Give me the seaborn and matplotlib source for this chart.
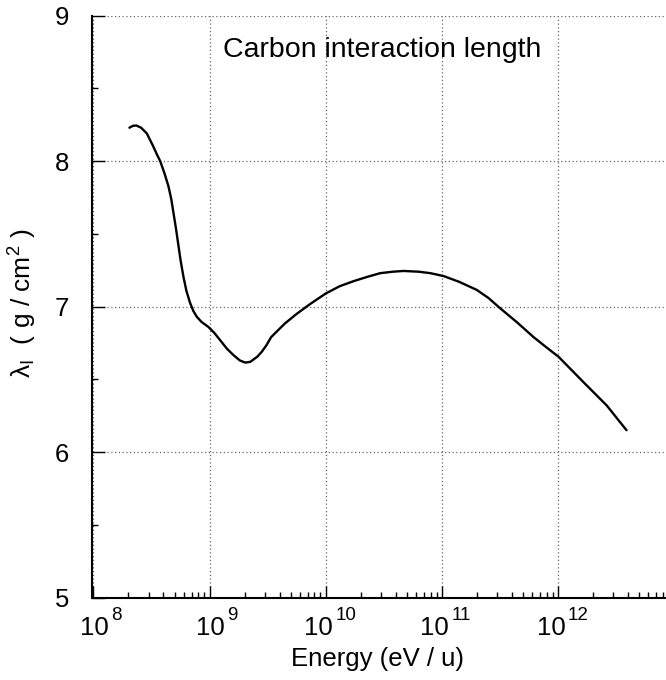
"""Carbon interaction length vs energy per nucleon (log x)."""
import matplotlib
matplotlib.use("Agg")
import matplotlib.pyplot as plt
import matplotlib.ticker as mticker
import matplotlib.transforms as mtransforms
import numpy as np
import pandas as pd
import seaborn as sns

# values: log10(E / (eV/u)) and lambda_I (g/cm^2)
log_energy = [8.31, 8.34, 8.37, 8.41, 8.46, 8.51, 8.55, 8.575, 8.61, 8.645,
              8.67, 8.69, 8.71, 8.73, 8.75, 8.775, 8.80, 8.83, 8.86, 8.89,
              8.93, 8.99, 9.04, 9.09, 9.15, 9.205, 9.26, 9.307, 9.35, 9.41,
              9.45, 9.49, 9.53, 9.58, 9.65, 9.75, 9.87, 10.0, 10.12, 10.24,
              10.36, 10.47, 10.58, 10.67, 10.80, 10.90, 11.015, 11.15, 11.30,
              11.40, 11.50, 11.65, 11.79, 11.90, 12.005, 12.22, 12.42, 12.59]
lambda_i = [8.23, 8.243, 8.245, 8.23, 8.19, 8.11, 8.04, 8.0, 7.92, 7.83,
            7.74, 7.64, 7.54, 7.43, 7.32, 7.205, 7.11, 7.03, 6.97, 6.93,
            6.895, 6.86, 6.82, 6.77, 6.71, 6.667, 6.63, 6.615, 6.62, 6.655,
            6.69, 6.735, 6.79, 6.83, 6.885, 6.95, 7.02, 7.09, 7.14, 7.175,
            7.205, 7.23, 7.24, 7.245, 7.24, 7.23, 7.21, 7.17, 7.115,
            7.06, 6.99, 6.89, 6.79, 6.72, 6.655, 6.48, 6.32, 6.15]

decades = [8, 9, 10, 11, 12]
y_major = [5, 6, 7, 8, 9]
title = "Carbon interaction length"
xlabel = "Energy (eV / u)"
ylabel = r"$\lambda_{\rm I}$  ( g / cm$^{2}$ )"

df = pd.DataFrame({"energy": np.power(10.0, log_energy), "lambda_i": lambda_i})

sns.set_theme(style="white")
plt.rcParams["font.family"] = ["Liberation Sans", "DejaVu Sans"]
plt.rcParams["mathtext.fontset"] = "custom"
plt.rcParams["mathtext.rm"] = "Liberation Sans"
plt.rcParams["mathtext.it"] = "Liberation Sans:italic"
plt.rcParams["mathtext.default"] = "regular"
for key in ["text.color", "axes.labelcolor", "xtick.color", "ytick.color"]:
    plt.rcParams[key] = "black"

fig = plt.figure(figsize=(6.66, 6.80), dpi=100)
ax = fig.add_axes([91.7 / 666, (680 - 597.5) / 680, (666 - 91.7) / 666, (597.5 - 15.7) / 680])

sns.lineplot(data=df, x="energy", y="lambda_i", sort=False, estimator=None,
             color="black", lw=1.7, ax=ax)

ax.set_xscale("log")
ax.set_xlim(10 ** 7.985, 10 ** 12.93)
ax.set_ylim(5, 9)

ax.xaxis.set_major_locator(mticker.FixedLocator([10.0 ** d for d in decades]))
ax.set_xticklabels(["10"] * len(decades))
ax.xaxis.set_minor_locator(mticker.LogLocator(base=10, subs=np.arange(2, 10)))
ax.xaxis.set_minor_formatter(mticker.NullFormatter())
ax.yaxis.set_major_locator(mticker.FixedLocator(y_major))
ax.yaxis.set_minor_locator(mticker.MultipleLocator(0.5))

ax.tick_params(axis="both", which="major", direction="in", length=9, width=1.0,
               labelsize=18.5)
ax.tick_params(axis="both", which="minor", direction="in", length=4.5, width=1.0)
ax.tick_params(axis="x", which="major", pad=13)
ax.tick_params(axis="y", which="major", pad=16)
ax.tick_params(axis="both", which="both", bottom=True, left=True, top=False, right=False)

# ROOT-style labels: "10" under the tick, exponent raised to its right
for d, lab in zip(decades, ax.get_xticklabels()):
    shift = 1 if d < 10 else -7
    lab.set_transform(lab.get_transform() +
                      mtransforms.ScaledTranslation(shift / 100, 0, fig.dpi_scale_trans))
    ax.annotate(str(d), xy=(10.0 ** d, 0), xycoords=("data", "axes fraction"),
                xytext=((shift + 17) * 0.72, -23 * 0.72), textcoords="offset points",
                ha="left", va="baseline", fontsize=13.5)

ax.grid(True, which="major", linestyle=(0, (1, 2)), color="0.4", lw=0.9)
for side in ["top", "right"]:
    ax.spines[side].set_visible(False)
for side in ["left", "bottom"]:
    ax.spines[side].set_color("black")
    ax.spines[side].set_linewidth(1.5)

ax.set_xlabel(xlabel, fontsize=18.5)
ax.xaxis.set_label_coords(0.4985, -0.0859)
ax.set_ylabel(ylabel, fontsize=19)
ax.yaxis.set_label_coords(-0.0918, 0.506)
ax.text(0.5055, 0.941, title, transform=ax.transAxes, ha="center", va="center",
        fontsize=20.5)

fig.savefig("out.png", dpi=100)
